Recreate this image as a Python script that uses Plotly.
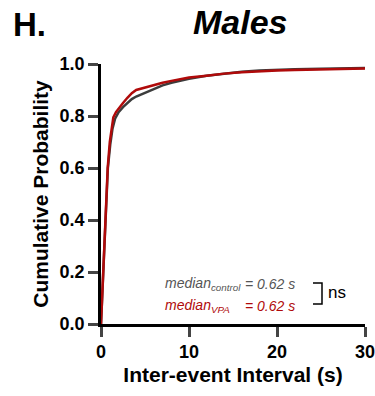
import plotly.graph_objects as go

# Cumulative distributions
ctrl_x = [0, 0.1, 0.27, 0.45, 0.62, 0.78, 1.05, 1.3, 1.6, 2.0, 2.5, 3.0, 3.5, 4.0, 4.8, 5.5,
          6.2, 7, 8, 10, 12, 14, 16, 18, 20, 22, 25, 28, 30]
ctrl_p = [0, 0.08, 0.2, 0.4, 0.5, 0.6, 0.69, 0.75, 0.79, 0.815, 0.834, 0.85, 0.865, 0.875, 0.886,
          0.898, 0.908, 0.918, 0.928, 0.943, 0.955, 0.963, 0.970, 0.975, 0.978, 0.980, 0.982, 0.984, 0.985]

vpa_x = [0, 0.1, 0.27, 0.45, 0.62, 0.76, 1.0, 1.2, 1.4, 1.7, 2.0, 2.5, 3.0, 3.5, 4.0, 5.0, 6.0,
         7, 8, 10, 12, 14, 16, 18, 20, 22, 25, 28, 30]
vpa_p = [0, 0.08, 0.2, 0.4, 0.5, 0.6, 0.70, 0.76, 0.795, 0.815, 0.83, 0.85, 0.87, 0.888, 0.90,
         0.91, 0.92, 0.928, 0.935, 0.948, 0.955, 0.963, 0.968, 0.972, 0.975, 0.977, 0.980, 0.982, 0.983]

x_ticks = [0, 10, 20, 30]
y_ticks = [0.0, 0.2, 0.4, 0.6, 0.8, 1.0]
y_tick_labels = ["0.0", "0.2", "0.4", "0.6", "0.8", "1.0"]

FONT = "Liberation Sans, Arial, Helvetica, sans-serif"
GRAY = "#3c3c3c"
RED = "#b00a0a"

fig = go.Figure()
fig.add_trace(go.Scatter(x=ctrl_x, y=ctrl_p, mode="lines",
                         line=dict(color=GRAY, width=2.5), showlegend=False))
fig.add_trace(go.Scatter(x=vpa_x, y=vpa_p, mode="lines",
                         line=dict(color=RED, width=2.5), showlegend=False))

# plot area in pixels: x 101..365, y 63.5..324
L, R, T, B = 101, 365, 63.5, 324
W, H = R - L, B - T


def px(x):
    return (x - L) / W


def py(y):
    return (B - y) / H


annotations = [
    dict(text="<b><i>Males</i></b>", x=px(240), y=py(21), xref="paper", yref="paper",
         showarrow=False, xanchor="center", yanchor="middle",
         font=dict(family=FONT, size=34, color="black")),
    dict(text="<b>H.</b>", x=px(11), y=py(24), xref="paper", yref="paper",
         showarrow=False, xanchor="left", yanchor="middle",
         font=dict(family=FONT, size=33, color="black")),
    dict(text="<i>median<sub>control</sub></i>", x=px(163), y=py(284), xref="paper", yref="paper",
         showarrow=False, xanchor="left", yanchor="middle",
         font=dict(family=FONT, size=14, color="#555555")),
    dict(text="<i>= 0.62 s</i>", x=px(243), y=py(284), xref="paper", yref="paper",
         showarrow=False, xanchor="left", yanchor="middle",
         font=dict(family=FONT, size=14, color="#555555")),
    dict(text="<i>median<sub>VPA</sub></i>", x=px(163), y=py(306), xref="paper", yref="paper",
         showarrow=False, xanchor="left", yanchor="middle",
         font=dict(family=FONT, size=14, color=RED)),
    dict(text="<i>= 0.62 s</i>", x=px(243), y=py(306), xref="paper", yref="paper",
         showarrow=False, xanchor="left", yanchor="middle",
         font=dict(family=FONT, size=14, color=RED)),
    dict(text="ns", x=px(326), y=py(292), xref="paper", yref="paper",
         showarrow=False, xanchor="left", yanchor="middle",
         font=dict(family=FONT, size=17, color="black")),
]

bracket = f"M {px(313)} {py(283)} L {px(322)} {py(283)} L {px(322)} {py(304)} L {px(313)} {py(304)}"
shapes = [dict(type="path", path=bracket, xref="paper", yref="paper",
               line=dict(color="black", width=1.5))]

fig.update_layout(
    width=375, height=396,
    margin=dict(l=L, r=375 - R, t=T, b=396 - B, autoexpand=False),
    paper_bgcolor="white", plot_bgcolor="white",
    font=dict(family=FONT, color="black"),
    annotations=annotations, shapes=shapes,
    xaxis=dict(range=[0, 30], tickvals=x_ticks, ticks="outside", ticklen=10, tickwidth=2.5,
               showline=True, linewidth=2.5, linecolor="black", showgrid=False, zeroline=False,
               automargin=False, ticklabeloverflow="allow",
               tickfont=dict(family=FONT, size=18, color="black", weight="bold"),
               title=dict(text="<b>Inter-event Interval (s)</b>", standoff=6,
                          font=dict(family=FONT, size=21, color="black"))),
    yaxis=dict(range=[0, 1], tickvals=y_ticks, ticktext=y_tick_labels, ticks="outside",
               ticklen=10, tickwidth=2.5, showline=True, linewidth=2.5, linecolor="black",
               showgrid=False, zeroline=False, automargin=False, ticklabeloverflow="allow",
               tickfont=dict(family=FONT, size=18, color="black", weight="bold"),
               title=dict(text="<b>Cumulative Probability</b>", standoff=6,
                          font=dict(family=FONT, size=21, color="black"))),
)

fig.write_html("out.html", config={"displayModeBar": False},
               post_script="document.body.style.margin='0';document.body.style.padding='0';")
